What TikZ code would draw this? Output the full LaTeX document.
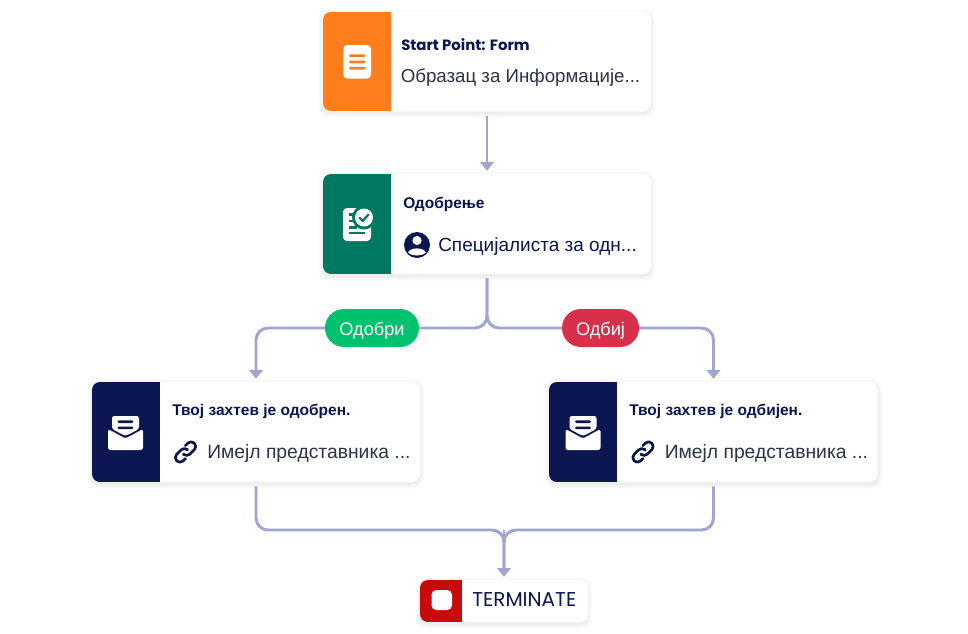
\documentclass[tikz,border=0pt]{standalone}
\usepackage{fontspec}
\setmainfont{Liberation Sans}
\newfontfamily\latinfont{Poppins}
\usetikzlibrary{arrows.meta,positioning,calc}
\definecolor{cOrange}{HTML}{FF7D1A}
\definecolor{cTeal}{HTML}{007862}
\definecolor{cNavy}{HTML}{0A1551}
\definecolor{cRed}{HTML}{C80A0A}
\definecolor{cLine}{HTML}{A0A6D0}
\definecolor{cBody}{HTML}{2C3345}
\definecolor{cGreen}{HTML}{00C16E}
\definecolor{cReject}{HTML}{D8304A}
\newcommand{\fpx}[1]{\fontsize{\dimexpr#1pt*3/4\relax}{\dimexpr#1pt*9/10\relax}\selectfont}
\tikzset{
  x=0.75pt,y=-0.75pt,
  card/.style={draw=none,fill=white,rounded corners=6pt,inner sep=0pt,minimum width=246pt,minimum height=75pt},
  titletext/.style={anchor=base west,inner sep=0pt,text=cNavy,font=\bfseries\fpx{15.5}},
  bodytext/.style={anchor=base west,inner sep=0pt,text=cBody,font=\fpx{18.7}},
  conn/.style={draw=cLine,line width=2.2pt,rounded corners=9pt},
  arrowed/.style={-{Triangle[width=10pt,length=6.5pt]}},
  pill/.style={rounded corners=14.2pt,inner sep=0pt,minimum height=28.5pt},
  navyline/.style={draw=cNavy,line width=2pt,line cap=round,line join=round},
}
% soft shadow of a card: left, top, right, bottom in reference pixels
\newcommand{\softshadow}[4]{%
  \foreach \g/\o in {5/0.008,4/0.010,3/0.012,2/0.015,1/0.02}{%
    \fill[black,opacity=\o,rounded corners=7pt]
      ({#1-\g},{#2-\g+2}) rectangle ({#3+\g},{#4+\g+2});}%
}
\newcommand{\panel}[5]{%
  \begin{scope}
    \clip[rounded corners=6pt] (#1,#2) rectangle (#3,#4);
    \fill[#5] (#1,#2) rectangle ({#1+68},#4);
  \end{scope}%
}
\newcommand{\mailicon}[2]{%
  \begin{scope}[shift={(#1,#2)}]
    \fill[white,rounded corners=1.8pt] (-13.5,-4) -- (-13.5,-17) -- (13.5,-17) -- (13.5,-4) -- (0,3) -- cycle;
    \fill[white,rounded corners=1.8pt] (-17.5,-4) -- (0,5.5) -- (17.5,-4) -- (17.5,17) -- (-17.5,17) -- cycle;
    \fill[cNavy,rounded corners=1pt] (-8,-12.6) rectangle (8,-10);
    \fill[cNavy,rounded corners=1pt] (-8,-6.4) rectangle (8,-3.8);
  \end{scope}%
}
\newcommand{\linkicon}[2]{%
  \begin{scope}[shift={(#1,#2)},rotate=45]
    \draw[navyline,rounded corners=3.4pt] (3,-1) -- (3,-4.6) -- (-12.5,-4.6) -- (-12.5,4.6) -- (-4.5,4.6);
    \draw[navyline,rounded corners=3.4pt] (-3,1) -- (-3,4.6) -- (12.5,4.6) -- (12.5,-4.6) -- (4.5,-4.6);
  \end{scope}%
}
\begin{document}
\begin{tikzpicture}
\useasboundingbox (0,0) rectangle (968,633);
\fill[white] (0,0) rectangle (968,633);

% shadows
\softshadow{323}{12}{651}{111}
\softshadow{323}{174}{651}{274}
\softshadow{92}{382}{420}{482}
\softshadow{549}{382}{878}{482}
\softshadow{420}{580}{588}{622}

% cards
\node[card] (start) at (487,61.5) {};
\node[card] (appr) at (487,224) {};
\node[card] (yes) at (256,432) {};
\node[card] (no) at (713.5,432) {};
\node[card,minimum width=126pt,minimum height=31.5pt] (term) at (504,601) {};

% named bends
\coordinate (busA) at (256,328);
\coordinate (busB) at (713.5,328);
\coordinate (busM) at (504,530);

% connectors
\draw[conn,arrowed,shorten <=3pt,shorten >=2.2pt] (start.south) -- (appr.north);
\draw[conn,arrowed,shorten <=3pt,shorten >=2.2pt] (appr.south) |- (busA) -- (yes.north);
\draw[conn,arrowed,shorten <=3pt,shorten >=2.2pt] (appr.south) |- (busB) -- (no.north);
\draw[conn,shorten <=3pt,shorten >=8pt] (yes.south) |- (busM) -- (term.north);
\draw[conn,shorten <=3pt,shorten >=8pt] (no.south) |- (busM) -- (term.north);
\draw[conn,arrowed,shorten >=2.2pt] (busM) -- (term.north);

% pills
\node[pill,fill=cGreen,minimum width=70.5pt] (ok) at (372,328) {};
\node[pill,fill=cReject,minimum width=57.75pt] (rej) at (600.5,328) {};
\node[anchor=base,inner sep=0pt,text=white,font=\fpx{18.2}] (oktext) at (372,335) {Одобри};
\node[anchor=base,inner sep=0pt,text=white,font=\fpx{18.2}] (rejtext) at (600.5,335) {Одбиј};

% icon panels
\panel{323}{12}{651}{111}{cOrange}
\panel{323}{174}{651}{274}{cTeal}
\panel{92}{382}{420}{482}{cNavy}
\panel{549}{382}{878}{482}{cNavy}
\begin{scope}
  \clip[rounded corners=6pt] (420,580) rectangle (588,622);
  \fill[cRed] (420,580) rectangle (462,622);
\end{scope}
\fill[white,rounded corners=3.5pt] (431.5,590) rectangle (452,610);

% form icon
\fill[white,rounded corners=3pt] (343.3,45) rectangle (371,78.5);
\foreach \yy in {55.8,62,68.2}{\fill[cOrange,rounded corners=1pt] (349,{\yy-1.4}) rectangle (365.5,{\yy+1.4});}

% approval icon
\fill[white,rounded corners=3pt] (343,208) rectangle (371,241);
\fill[cTeal] (364,217.5) circle (12);
\fill[white] (364,217.5) circle (9);
\draw[cTeal,line width=1.7pt,line cap=round,line join=round] (359.6,217.8) -- (362.8,220.8) -- (368.4,214.6);
\fill[cTeal] (349,213) rectangle ++(6,2.5);
\fill[cTeal] (349,219.5) rectangle ++(5,2.5);
\fill[cTeal] (349,226) rectangle ++(8,2.5);
\fill[cTeal] (349,231.5) rectangle ++(16,2.5);

% mail icons
\mailicon{125.5}{433}
\mailicon{583}{433}

% link icons
\linkicon{185.5}{452}
\linkicon{643}{452}

% person icon
\fill[cNavy] (417,245) circle (13);
\fill[white] (417,240.5) circle (4.6);
\fill[white] (408,252.6) .. controls (410,247) and (424,247) .. (426,252.6) .. controls (422,256.5) and (412,256.5) .. (408,252.6) -- cycle;

% texts
\node[titletext,font=\latinfont\bfseries\fpx{14.9}] (t1) at (401,50.3) {Start Point: Form};
\node[bodytext] (b1) at (400.5,82.5) {Образац за Информације...};
\node[titletext] (t2) at (403,208.7) {Одобрење};
\node[bodytext,text=cNavy,font=\fpx{19}] (b2) at (438,251.7) {Специјалиста за одн...};
\node[titletext] (t3) at (172,415) {Твој захтев је одобрен.};
\node[bodytext,font=\fpx{19.3}] (b3) at (207,458.5) {Имејл представника ...};
\node[titletext] (t4) at (629,415) {Твој захтев је одбијен.};
\node[bodytext,font=\fpx{19.3}] (b4) at (664.5,458.5) {Имејл представника ...};
\node[anchor=base west,inner sep=0pt,text=cNavy,font=\latinfont\fpx{20}] (t5) at (472,606.7) {TERMINATE};
\end{tikzpicture}
\end{document}
